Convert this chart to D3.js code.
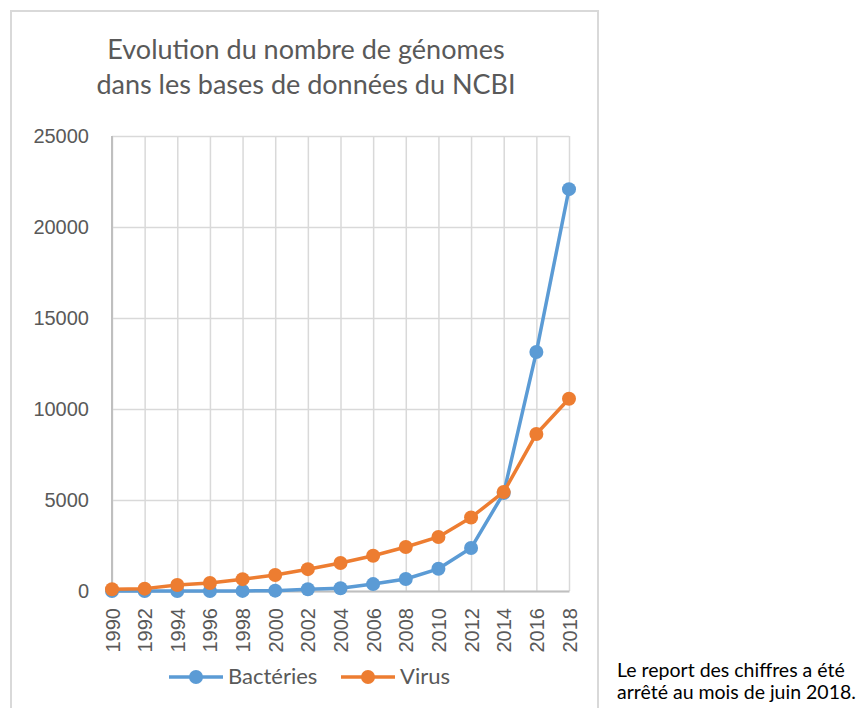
<!DOCTYPE html>
<html>
<head>
<meta charset="utf-8">
<script src="https://cdn.jsdelivr.net/npm/d3@7"></script>
<style>
  body { margin: 0; background: #fff; }
  svg { display: block; }
</style>
</head>
<body>
<div id="wrapper"></div>
<script>
// data
const years = ["1990","1992","1994","1996","1998","2000","2002","2004","2006","2008","2010","2012","2014","2016","2018"];
const bacteries = [0, 0, 0, 0, 5, 20, 100, 150, 380, 660, 1220, 2360, 5380, 13130, 22080];
const virus = [100, 130, 330, 440, 650, 880, 1200, 1540, 1940, 2420, 2970, 4040, 5440, 8630, 10560];
const yTicks = [0, 5000, 10000, 15000, 20000, 25000];
const seriesNames = ["Bactéries", "Virus"];
const colors = ["#5B9BD5", "#ED7D31"];
const titleLines = ["Evolution du nombre de génomes", "dans les bases de données du NCBI"];
const noteLines = ["Le report des chiffres a été", "arrêté au mois de juin 2018."];

const calibri = "Lato, 'Open Sans', sans-serif";
const arial = "'Liberation Sans', Arial, sans-serif";

const dimension = {
    width: 864,
    height: 708,
    plot: { left: 112, right: 569, top: 136, bottom: 591 }
};

const svg = d3.select("#wrapper").append("svg")
    .attr("width", dimension.width)
    .attr("height", dimension.height);

// chart frame
svg.append("rect")
    .attr("x", 11).attr("y", 11)
    .attr("width", 587).attr("height", 710)
    .attr("fill", "#fff")
    .attr("stroke", "#d9d9d9")
    .attr("stroke-width", 2);

// title
svg.append("g").selectAll("text")
    .data(titleLines)
    .join("text")
    .attr("x", 306)
    .attr("y", (d, i) => 59 + i * 35)
    .attr("text-anchor", "middle")
    .attr("font-family", calibri)
    .attr("font-size", 27)
    .attr("fill", "#595959")
    .text(d => d);

const xScaler = d3.scalePoint()
    .domain(years)
    .range([dimension.plot.left, dimension.plot.right]);

const yScaler = d3.scaleLinear()
    .domain([0, 25000])
    .range([dimension.plot.bottom, dimension.plot.top]);

// horizontal gridlines
svg.append("g")
    .attr("transform", `translate(${dimension.plot.left},0)`)
    .call(d3.axisLeft(yScaler).tickValues(yTicks)
        .tickSize(-(dimension.plot.right - dimension.plot.left)).tickFormat(""))
    .call(g => g.select(".domain").remove())
    .call(g => g.selectAll("line").attr("stroke", "#d9d9d9").attr("stroke-width", 1.5));

// vertical gridlines
svg.append("g")
    .attr("transform", `translate(0,${dimension.plot.bottom})`)
    .call(d3.axisBottom(xScaler)
        .tickSize(-(dimension.plot.bottom - dimension.plot.top)).tickFormat(""))
    .call(g => g.select(".domain").remove())
    .call(g => g.selectAll("line").attr("stroke", "#d9d9d9").attr("stroke-width", 1.5));

// y axis labels
svg.append("g")
    .attr("transform", `translate(${dimension.plot.left},0)`)
    .call(d3.axisLeft(yScaler).tickValues(yTicks).tickSize(0).tickPadding(23).tickFormat(d3.format("d")))
    .call(g => g.select(".domain").remove())
    .call(g => g.selectAll("text")
        .attr("font-family", arial).attr("font-size", 20).attr("fill", "#595959"));

// x axis
svg.append("g")
    .attr("transform", `translate(0,${dimension.plot.bottom})`)
    .call(d3.axisBottom(xScaler).tickSize(0).tickPadding(0))
    .call(g => g.select(".domain").attr("stroke", "#bfbfbf").attr("stroke-width", 2))
    .call(g => g.selectAll("text")
        .attr("font-family", arial).attr("font-size", 20).attr("fill", "#595959")
        .attr("text-anchor", "end")
        .attr("dy", "0.35em")
        .attr("transform", "translate(0,17) rotate(-90)")
        .attr("y", 0).attr("x", 0));

// y axis line
svg.append("line")
    .attr("x1", dimension.plot.left).attr("x2", dimension.plot.left)
    .attr("y1", dimension.plot.top).attr("y2", dimension.plot.bottom)
    .attr("stroke", "#bfbfbf").attr("stroke-width", 2);

// series
const series = [bacteries, virus];
const lineGenerator = d3.line()
    .x((d, i) => xScaler(years[i]))
    .y(d => yScaler(d));

series.forEach((values, s) => {
    svg.append("path")
        .attr("d", lineGenerator(values))
        .attr("fill", "none")
        .attr("stroke", colors[s])
        .attr("stroke-width", 3.5)
        .attr("stroke-linejoin", "round");
    svg.append("g").selectAll("circle")
        .data(values)
        .join("circle")
        .attr("cx", (d, i) => xScaler(years[i]))
        .attr("cy", d => yScaler(d))
        .attr("r", 7)
        .attr("fill", colors[s]);
});

// legend
const legendX = [169, 341];
const legend = svg.append("g");
seriesNames.forEach((name, s) => {
    const g = legend.append("g").attr("transform", `translate(${legendX[s]},677)`);
    g.append("line").attr("x1", 0).attr("x2", 54)
        .attr("stroke", colors[s]).attr("stroke-width", 3.5);
    g.append("circle").attr("cx", 27).attr("r", 7).attr("fill", colors[s]);
    g.append("text").attr("x", 59).attr("y", 7)
        .attr("font-family", calibri).attr("font-size", 22)
        .attr("fill", "#595959").text(name);
});

// note
svg.append("g").selectAll("text")
    .data(noteLines)
    .join("text")
    .attr("x", 617)
    .attr("y", (d, i) => 677 + i * 22)
    .attr("font-family", calibri)
    .attr("font-size", 19.5)
    .attr("fill", "#000")
    .text(d => d);
</script>
</body>
</html>
